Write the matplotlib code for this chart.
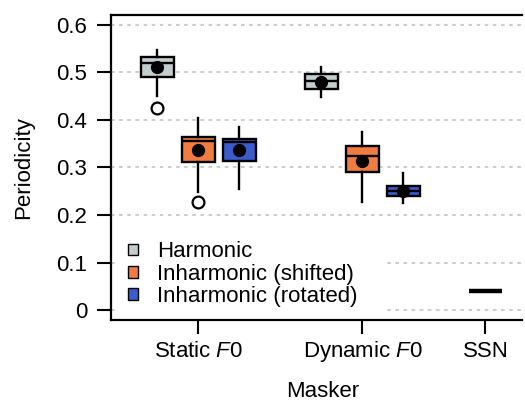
import matplotlib.pyplot as plt
from matplotlib.patches import Patch

plt.rcParams["font.family"] = "Liberation Sans"
plt.rcParams["mathtext.fontset"] = "custom"
plt.rcParams["mathtext.it"] = "Liberation Sans:italic"
plt.rcParams["mathtext.rm"] = "Liberation Sans"

# x categories and their positions
maskers = ["Static $F$0", "Dynamic $F$0", "SSN"]
masker_pos = [1.0, 2.0, 2.75]
conditions = ["Harmonic", "Inharmonic (shifted)", "Inharmonic (rotated)"]
colors = ["#c3cdcb", "#f07c41", "#3b5ccc"]
offsets = [-0.25, 0.0, 0.25]

# box statistics, one list per condition: [static, dynamic]
whislo = [[0.451, 0.449], [0.248, 0.228], [0.255, 0.226]]
q1 = [[0.491, 0.466], [0.311, 0.291], [0.314, 0.240]]
med = [[0.521, 0.482], [0.356, 0.325], [0.354, 0.251]]
q3 = [[0.533, 0.497], [0.364, 0.346], [0.360, 0.262]]
whishi = [[0.547, 0.512], [0.404, 0.375], [0.386, 0.288]]
means = [[0.511, 0.481], [0.337, 0.314], [0.337, 0.250]]
fliers = [[[0.425], []], [[0.227], []], [[], []]]

ssn_value = 0.04

fig = plt.figure(figsize=(5.25, 4.01), dpi=100)
ax = fig.add_axes([0.2114, 0.202, 0.782, 0.7606])

for c in range(3):
    stats = []
    for g in range(2):
        stats.append(dict(whislo=whislo[c][g], q1=q1[c][g], med=med[c][g],
                          q3=q3[c][g], whishi=whishi[c][g], mean=means[c][g],
                          fliers=fliers[c][g]))
    ax.bxp(stats, positions=[masker_pos[g] + offsets[c] for g in range(2)],
           widths=0.2, patch_artist=True, showmeans=True, showcaps=False,
           boxprops=dict(facecolor=colors[c], edgecolor="black", linewidth=1.7),
           medianprops=dict(color="black", linewidth=1.7),
           whiskerprops=dict(color="black", linewidth=1.7),
           meanprops=dict(marker="o", markerfacecolor="black",
                          markeredgecolor="black", markersize=8.5),
           flierprops=dict(marker="o", markerfacecolor="white",
                           markeredgecolor="black", markeredgewidth=1.6,
                           markersize=8.5),
           zorder=3)

ax.hlines(ssn_value, masker_pos[2] - 0.1, masker_pos[2] + 0.1,
          color="black", linewidth=3.2, zorder=3)

ax.set_xlim(0.467, 2.97)
ax.set_ylim(-0.021, 0.621)
ax.set_yticks([0, 0.1, 0.2, 0.3, 0.4, 0.5, 0.6])
ax.set_yticklabels(["0", "0.1", "0.2", "0.3", "0.4", "0.5", "0.6"])
ax.set_xticks(masker_pos)
ax.set_xticklabels(maskers)
for lab in ax.get_xticklabels():
    lab.set_verticalalignment("baseline")

ax.yaxis.grid(True, linestyle=(0, (2, 2.5)), color="#c8c8c8", linewidth=1.3)
ax.set_axisbelow(True)

ax.spines["right"].set_visible(False)
for s in ["left", "top", "bottom"]:
    ax.spines[s].set_linewidth(1.6)
ax.tick_params(axis="both", direction="out", length=10, width=1.5,
               labelsize=16)
ax.tick_params(axis="y", pad=7)
ax.tick_params(axis="x", pad=17)

ax.set_ylabel("Periodicity", fontsize=16, labelpad=16)
ax.set_xlabel("Masker", fontsize=16, labelpad=12)
ax.xaxis.label.set_x(0.515)

handles = [Patch(facecolor=colors[i], edgecolor="black", linewidth=1.0,
                 label=conditions[i]) for i in range(3)]
leg = ax.legend(handles=handles, loc="lower left",
                bbox_to_anchor=(0.01, 0.0, 0.663, 0.3), mode="expand",
                frameon=True, fontsize=16, handlelength=0.45, handleheight=0.45,
                handletextpad=0.85, labelspacing=0.05, borderaxespad=0.0,
                borderpad=0.6, fancybox=False)
leg.get_frame().set_edgecolor("none")
leg.get_frame().set_facecolor("white")
leg.get_frame().set_alpha(1.0)
leg.set_zorder(2)

fig.savefig("out.png", dpi=100)
